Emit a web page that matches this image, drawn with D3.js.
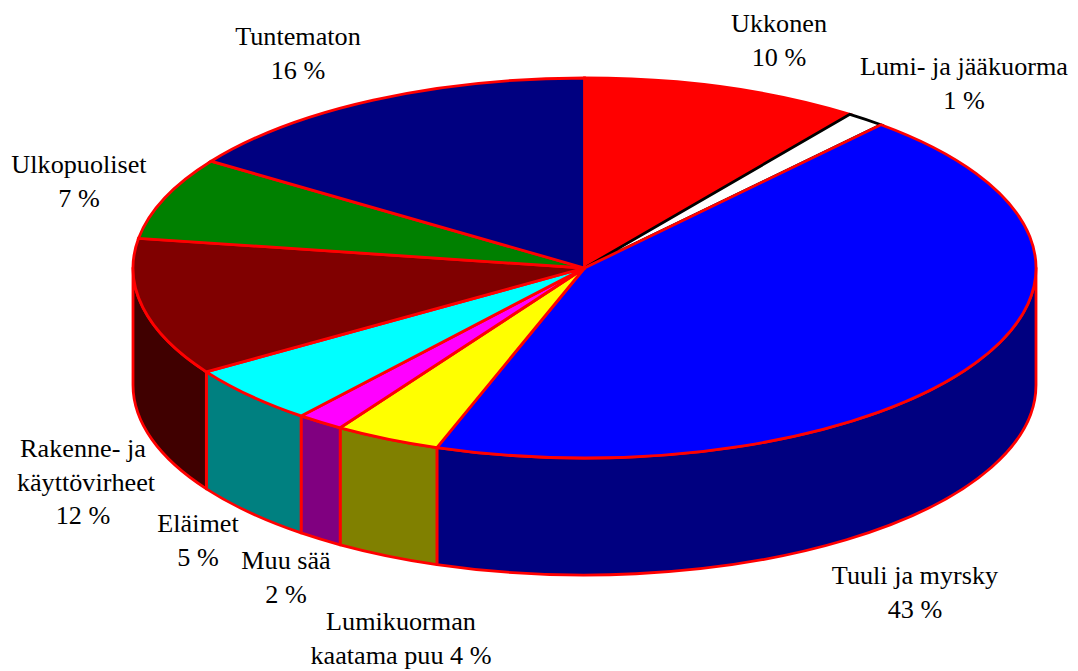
<!DOCTYPE html>
<html>
<head>
<meta charset="utf-8">
<script src="https://cdn.jsdelivr.net/npm/d3@7"></script>
<style>
html, body { margin: 0; padding: 0; background: #fff; }
svg { display: block; }
text { font-family: "Liberation Serif", serif; font-size: 26.2px; fill: #000; text-anchor: middle; }
</style>
</head>
<body>
<svg id="chart"></svg>
<script>
var categories = ["Ukkonen", "Lumi- ja jääkuorma", "Tuuli ja myrsky", "Lumikuorman kaatama puu", "Muu sää", "Eläimet", "Rakenne- ja käyttövirheet", "Ulkopuoliset", "Tuntematon"];
// slice sizes, the printed labels are rounded differently
var values = [10.0, 1.4, 43.9, 3.8, 1.7, 5.0, 11.7, 7.0, 15.5];
var labelLines = [
    ["Ukkonen", "10 %"],
    ["Lumi- ja jääkuorma", "1 %"],
    ["Tuuli ja myrsky", "43 %"],
    ["Lumikuorman", "kaatama puu 4 %"],
    ["Muu sää", "2 %"],
    ["Eläimet", "5 %"],
    ["Rakenne- ja", "käyttövirheet", "12 %"],
    ["Ulkopuoliset", "7 %"],
    ["Tuntematon", "16 %"]
];
var topColors = ["#ff0000", "#ffffff", "#0000ff", "#ffff00", "#ff00ff", "#00ffff", "#800000", "#008000", "#000080"];
var sideColors = ["#800000", "#808080", "#000080", "#808000", "#800080", "#008080", "#400000", "#004000", "#000040"];
var strokeColors = ["#ff0000", "#000000", "#ff0000", "#ff0000", "#ff0000", "#ff0000", "#ff0000", "#ff0000", "#ff0000"];

var width = 1078,
    height = 671,
    cx = 584.5,
    cy = 268,
    rx = 451.5,
    ry = 190,
    depth = 117

// [x of first line, baseline of first line] for every label
var labelPos = [[779, 32], [964, 75], [915, 584], [401, 630], [286, 569], [198, 532], [83, 457], [79, 173], [298, 45]];
var lineGap = 33.5;

var svg = d3.select("#chart")
    .attr("width", width)
    .attr("height", height)

var x = d3.scaleLinear().domain([-1, 1]).range([cx - rx, cx + rx])
var y = d3.scaleLinear().domain([-1, 1]).range([cy - ry, cy + ry])

var pie = d3.pie().sort(null).value(function (d) { return d; })
var slices = pie(values)

var arc = d3.arc().innerRadius(0).outerRadius(rx)

function rimX(a) { return x(Math.sin(a)); }
function rimY(a) { return y(-Math.cos(a)); }

// side wall of a slice, only the front half of the pie shows
function wall(d) {
    var a0 = Math.max(d.startAngle, Math.PI / 2)
    var a1 = Math.min(d.endAngle, Math.PI * 3 / 2)
    if (a0 >= a1) return null
    return "M" + rimX(a0) + "," + rimY(a0)
        + "L" + rimX(a0) + "," + (rimY(a0) + depth)
        + "A" + rx + "," + ry + " 0 0 1 " + rimX(a1) + "," + (rimY(a1) + depth)
        + "L" + rimX(a1) + "," + rimY(a1)
        + "A" + rx + "," + ry + " 0 0 0 " + rimX(a0) + "," + rimY(a0) + "Z"
}

svg.append("g")
    .attr("class", "walls")
    .selectAll("path")
    .data(slices.filter(function (d) { return wall(d) !== null; }))
    .enter().append("path")
    .attr("d", wall)
    .attr("fill", function (d) { return sideColors[d.index]; })
    .attr("stroke", "#ff0000")
    .attr("stroke-width", 2.8)
    .attr("stroke-linejoin", "round")

svg.append("g")
    .attr("class", "tops")
    .selectAll("path")
    .data(slices)
    .enter().append("path")
    .attr("d", arc)
    .attr("transform", "translate(" + cx + "," + cy + ") scale(1," + (ry / rx) + ")")
    .attr("vector-effect", "non-scaling-stroke")
    .attr("fill", function (d) { return topColors[d.index]; })
    .attr("stroke", function (d) { return strokeColors[d.index]; })
    .attr("stroke-width", 2.8)
    .attr("stroke-linejoin", "miter")

var label = svg.append("g")
    .attr("class", "labels")
    .selectAll("text")
    .data(labelLines)
    .enter().append("text")
    .attr("x", function (d, i) { return labelPos[i][0]; })
    .attr("y", function (d, i) { return labelPos[i][1]; })

label.selectAll("tspan")
    .data(function (d, i) {
        return d.map(function (t) { return { text: t, x: labelPos[i][0] }; });
    })
    .enter().append("tspan")
    // this one line sits a little right of the others in its label
    .attr("x", function (d) { return d.text === "käyttövirheet" ? d.x + 3 : d.x; })
    .attr("dy", function (d, i) { return i === 0 ? 0 : lineGap; })
    .text(function (d) { return d.text; })
</script>
</body>
</html>
